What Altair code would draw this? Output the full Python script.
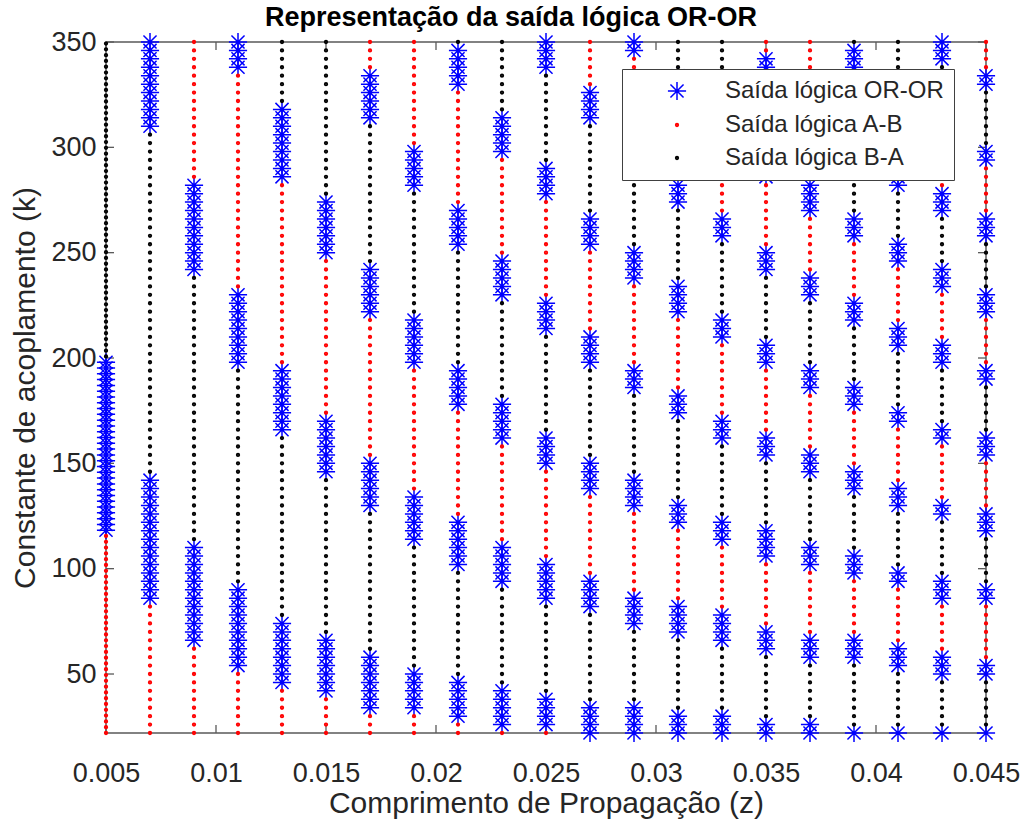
import altair as alt
import pandas as pd

# ---------------- data ----------------
Z_COLUMNS = [0.005, 0.007, 0.009, 0.011, 0.013, 0.015, 0.017, 0.019, 0.021, 0.023,
             0.025, 0.027, 0.029, 0.031, 0.033, 0.035, 0.037, 0.039, 0.041, 0.043, 0.045]

# k sampling of the sweep (dot spacing): 22..350 step 4, first column denser
K_GRID = list(range(22, 351, 4))
K_GRID_FIRST = [round(22 + 2.75 * i, 2) for i in range(120)]

# k extent of the blue star clusters ("Saída lógica OR-OR") for every column
OR_CLUSTERS = [
    [[116, 198]],
    [[83, 142], [307, 350]],
    [[64, 110], [239, 285]],
    [[53, 90], [196, 233], [338, 350]],
    [[45, 76], [165, 197], [286, 318]],
    [[39, 66], [143, 171], [248, 276]],
    [[34, 58], [127, 151], [219, 243], [311, 336]],
    [[31, 52], [113, 135], [196, 218], [279, 300]],
    [[28, 47], [102, 122], [177, 197], [252, 272], [327, 346]],
    [[25, 43], [94, 111], [162, 180], [230, 248], [298, 316]],
    [[23, 40], [86, 102], [149, 165], [212, 228], [275, 291], [337, 350]],
    [[22, 37], [80, 95], [138, 153], [196, 211], [254, 269], [312, 328]],
    [[22, 34], [74, 88], [128, 143], [183, 197], [237, 251], [291, 305], [345, 350]],
    [[22, 32], [69, 83], [120, 133], [171, 184], [221, 235], [272, 285], [323, 336]],
    [[22, 30], [65, 78], [113, 125], [160, 173], [208, 220], [256, 268], [303, 316]],
    [[22, 28], [61, 73], [106, 118], [151, 163], [196, 208], [241, 253], [286, 298], [331, 343]],
    [[22, 27], [58, 69], [101, 112], [143, 154], [185, 197], [228, 239], [270, 282], [313, 324]],
    [[22, 25], [55, 66], [95, 106], [136, 146], [176, 187], [216, 227], [257, 267], [297, 307], [337, 348]],
    [[22, 24], [53, 63], [91, 101], [129, 139], [167, 177], [206, 216], [244, 254], [282, 292], [321, 331]],
    [[22, 23], [50, 60], [86, 96], [123, 133], [159, 169], [196, 206], [233, 242], [269, 279], [306, 315], [342, 350]],
    [[22, 22], [48, 57], [83, 92], [118, 127], [152, 162], [187, 197], [222, 232], [257, 267], [292, 301], [327, 336]],
]

SERIES = ["Saída lógica OR-OR", "Saída lógica A-B", "Saída lógica B-A"]
COLORS = ["#0000ff", "#ff0000", "#000000"]
X_TICKS = [0.005, 0.01, 0.015, 0.02, 0.025, 0.03, 0.035, 0.04, 0.045]
Y_TICKS = [50, 100, 150, 200, 250, 300, 350]

# ---------------- build table ----------------
rows = []
for z, clusters in zip(Z_COLUMNS, OR_CLUSTERS):
    grid = K_GRID_FIRST if z == Z_COLUMNS[0] else K_GRID
    for k in grid:
        if any(lo <= k <= hi for lo, hi in clusters):
            s = 0
        else:
            below = sum(1 for lo, hi in clusters if hi < k)
            s = 1 if below % 2 == 0 else 2
        rows.append({"z": z, "k": k, "series": SERIES[s], "order": s})
df = pd.DataFrame(rows).sort_values("order", kind="stable")

# MATLAB-like '*' marker and a small solid dot (concentric strokes)
STAR = "M-1,0L1,0M0,-1L0,1M-0.72,-0.72L0.72,0.72M-0.72,0.72L0.72,-0.72"
DOT = ("M-0.05,0A0.05,0.05,0,1,0,0.05,0A0.05,0.05,0,1,0,-0.05,0Z"
       "M-0.155,0A0.155,0.155,0,1,0,0.155,0A0.155,0.155,0,1,0,-0.155,0Z")

W, H = 880, 691
FONT = "Liberation Sans"
GRAY = "#262626"
FRAME = "#5a5a5a"
MSIZE = 330
MSTROKE = 1.5

legend = alt.Legend(
    title=None, orient="none", legendX=516, legendY=27,
    fillColor="white", strokeColor="#404040", padding=10,
    symbolOffset=33, labelOffset=36, labelFontSize=24, labelFont=FONT,
    labelColor=GRAY, rowPadding=9, symbolSize=MSIZE, symbolStrokeWidth=MSTROKE,
    labelLimit=400,
)

xenc = alt.X(
    "z:Q",
    scale=alt.Scale(domain=[0.005, 0.045], nice=False, zero=False),
    axis=alt.Axis(values=X_TICKS, format="~g", title="Comprimento de Propagação (z)",
                  labelPadding=27, labelFlush=False, labelOverlap=False,
                  titleX=W / 2, titleY=79, titleBaseline="alphabetic",
                  titleAlign="center"),
)
yenc = alt.Y(
    "k:Q",
    scale=alt.Scale(domain=[22, 350], nice=False, zero=False),
    axis=alt.Axis(values=Y_TICKS, title="Constante de acoplamento (k)",
                  labelPadding=10, labelFlush=False, labelOverlap=False,
                  titleX=-72, titleY=H / 2, titleAngle=-90,
                  titleBaseline="alphabetic", titleAlign="center"),
)

points = alt.Chart(df).mark_point(filled=False, size=MSIZE, strokeWidth=MSTROKE, opacity=1).encode(
    x=xenc,
    y=yenc,
    color=alt.Color("series:N", scale=alt.Scale(domain=SERIES, range=COLORS), legend=legend),
    shape=alt.Shape("series:N", scale=alt.Scale(domain=SERIES, range=[STAR, DOT, DOT]), legend=legend),
    order=alt.Order("order:Q"),
)

xt = pd.DataFrame({"v": X_TICKS})
yt = pd.DataFrame({"v": Y_TICKS})
tick_style = dict(color=FRAME, strokeWidth=1.3)
t_bottom = alt.Chart(xt).mark_rule(**tick_style).encode(x="v:Q", y=alt.value(H), y2=alt.value(H - 8))
t_top = alt.Chart(xt).mark_rule(**tick_style).encode(x="v:Q", y=alt.value(0), y2=alt.value(8))
t_left = alt.Chart(yt).mark_rule(**tick_style).encode(y="v:Q", x=alt.value(0), x2=alt.value(8))
t_right = alt.Chart(yt).mark_rule(**tick_style).encode(y="v:Q", x=alt.value(W), x2=alt.value(W - 8))

chart = alt.layer(t_bottom, t_top, t_left, t_right, points).properties(
    width=W, height=H,
    padding={"left": 106, "top": 42, "right": 37, "bottom": 88},
    autosize=alt.AutoSizeParams(type="none"),
    background="white",
    title=alt.TitleParams(
        "Representação da saída lógica OR-OR", font=FONT, fontSize=27, fontWeight="bold",
        color="black", anchor="middle", frame="group", dx=-35, dy=26, offset=1,
        baseline="alphabetic",
    ),
).configure_axis(
    grid=False, ticks=False, domain=False,
    labelFont=FONT, labelFontSize=27, labelColor=GRAY,
    titleFont=FONT, titleFontSize=30, titleFontWeight="normal", titleColor=GRAY,
).configure_view(
    stroke=FRAME, strokeWidth=1.5,
)

chart.save("out.html", embed_options={"renderer": "svg", "actions": False})
